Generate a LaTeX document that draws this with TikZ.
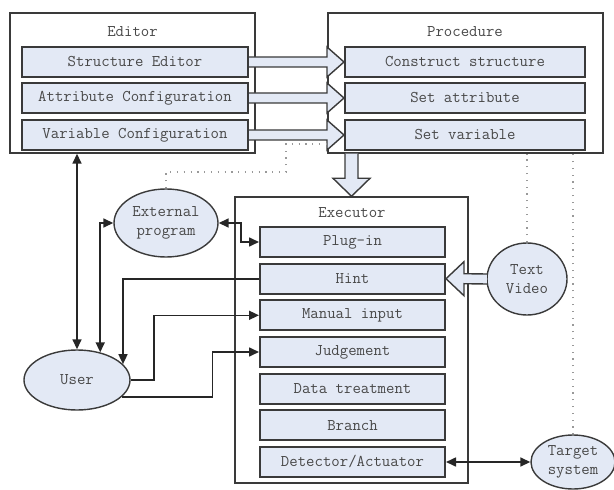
\documentclass[tikz,border=0pt]{standalone}
\usetikzlibrary{shapes.geometric,arrows.meta,calc}
\definecolor{boxfill}{HTML}{E3E9F5}
\definecolor{edgec}{HTML}{3A3A3A}
\definecolor{txt}{HTML}{484848}
\tikzset{
  lbl/.style={font=\ttfamily\fontsize{16.4}{19}\selectfont, text=txt, align=center, inner sep=0},
  outerbox/.style={draw=edgec, line width=1.4bp, fill=white, inner sep=0},
  innerbox/.style={lbl, draw=edgec, line width=2bp, fill=boxfill, minimum height=30bp},
  oval/.style={lbl, ellipse, draw=edgec, line width=1.4bp, fill=boxfill},
  conn/.style={draw=black!85, line width=1.6bp, -{Triangle[length=10bp,width=9bp]}},
  dconn/.style={draw=black!85, line width=1.6bp, {Triangle[length=10bp,width=9bp]}-{Triangle[length=10bp,width=9bp]}},
  blk/.style={fill=boxfill, draw=edgec, line width=1.4bp, line join=miter},
  dots/.style={draw=gray!80, line width=1.1bp, dash pattern=on 1.2bp off 5.6bp}
}
\begin{document}
\begin{tikzpicture}[x=1bp,y=-1bp]
\useasboundingbox (0,0) rectangle (614,490);
% Editor
\node[outerbox, minimum width=245bp, minimum height=140bp] (ed) at (132.5,83) {};
\node[lbl] (edt) at (132.5,32) {Editor};
\node[innerbox, minimum width=226bp] (s1) at (135,62) {Structure Editor};
\node[innerbox, minimum width=226bp] (s2) at (135,98) {Attribute Configuration};
\node[innerbox, minimum width=226bp] (s3) at (135,135) {Variable Configuration};
% Procedure
\node[outerbox, minimum width=275bp, minimum height=140bp] (proc) at (465.5,83) {};
\node[lbl] (proct) at (465,32) {Procedure};
\node[innerbox, minimum width=240bp] (c1) at (465,62) {Construct structure};
\node[innerbox, minimum width=240bp] (c2) at (465,98) {Set attribute};
\node[innerbox, minimum width=240bp] (c3) at (465,135) {Set variable};
% Executor
\node[outerbox, minimum width=233bp, minimum height=286bp] (exe) at (351.5,340) {};
\node[lbl] (exet) at (352,213) {Executor};
\node[innerbox, minimum width=185bp] (plug) at (352.5,242) {Plug-in};
\node[innerbox, minimum width=185bp] (hint) at (352.5,278.7) {Hint};
\node[innerbox, minimum width=185bp] (manual) at (352.5,315.3) {Manual input};
\node[innerbox, minimum width=185bp] (judge) at (352.5,352) {Judgement};
\node[innerbox, minimum width=185bp] (data) at (352.5,388.7) {Data treatment};
\node[innerbox, minimum width=185bp] (branch) at (352.5,425.3) {Branch};
\node[innerbox, minimum width=185bp] (det) at (352.5,462) {Detector/Actuator};
% Ellipses
\node[oval, minimum width=104bp, minimum height=68bp] (ext) at (166,223) {External\\program};
\node[oval, minimum width=80bp, minimum height=72bp] (tv) at (527,279) {Text\\Video};
\node[oval, minimum width=106bp, minimum height=60bp] (user) at (77,380) {User};
\node[oval, minimum width=84bp, minimum height=54bp] (target) at (573,462) {Target\\system};
% Block arrows editor -> procedure
\foreach \a/\b in {s1/c1, s2/c2, s3/c3}{
  \path[blk] ($(\a.east)+(0,-5)$) -- ($(\b.west)+(-17,-5)$) -- ($(\b.west)+(-17,-15)$) -- (\b.west)
     -- ($(\b.west)+(-17,15)$) -- ($(\b.west)+(-17,5)$) -- ($(\a.east)+(0,5)$);
}
% Block arrow procedure -> executor
\coordinate (dtop) at (proc.south -| exe.north);
\path[blk] ($(dtop)+(-6.5,0)$) -- ($(exe.north)+(-6.5,-18)$) -- ($(exe.north)+(-18.5,-18)$) -- (exe.north)
   -- ($(exe.north)+(18.5,-18)$) -- ($(exe.north)+(6.5,-18)$) -- ($(dtop)+(6.5,0)$);
% Block arrow Text/Video -> Hint
\path[blk] ($(tv.west)+(0.5,-5)$) -- ($(hint.east)+(18,-5)$) -- ($(hint.east)+(18,-17)$) -- (hint.east)
   -- ($(hint.east)+(18,17)$) -- ($(hint.east)+(18,5)$) -- ($(tv.west)+(0.5,5)$);
% Dotted lines
\coordinate (dp) at (proc.west |- 0,144);
\draw[dots] (ext.north) |- (286,172) |- (dp);
\draw[dots] (tv.north) -- (tv.north |- proc.south);
\draw[dots] (target.north) -- (target.north |- proc.south);
% Connectors
\draw[dconn] (user.north |- ed.south) -- (user.north);
\draw[dconn] (ext.west) -| (user.50);
\draw[conn] (hint.west) -| (user.19);
\draw[conn] (user.east) -- ++(23,0) |- (manual.west);
\draw[conn] (user.-21) -- ++(91,0) |- (judge.west);
\draw[dconn] (ext.east) -- ++(22,0) |- (plug.west);
\draw[dconn] (det.east) -- (target.west);
\end{tikzpicture}
\end{document}
